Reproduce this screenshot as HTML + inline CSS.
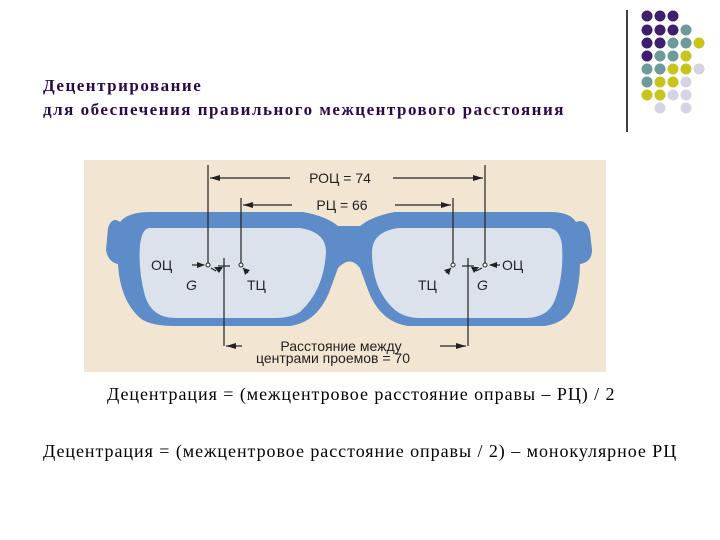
<!DOCTYPE html>
<html><head><meta charset="utf-8"><style>
body{margin:0;width:720px;height:540px;background:#fff;overflow:hidden;position:relative;font-family:"Liberation Serif",serif}
.t{position:absolute;left:43px;font-weight:bold;font-size:17px;letter-spacing:1.5px;color:#2a0a4a;white-space:nowrap}
.f{position:absolute;font-size:18px;letter-spacing:0.95px;color:#000;white-space:nowrap}
</style></head><body>
<div class="t" style="top:76px">Децентрирование</div>
<div class="t" style="top:100px">для обеспечения правильного межцентрового расстояния</div>
<svg width="720" height="540" style="position:absolute;left:0;top:0">
<line x1="627" y1="10" x2="627" y2="132" stroke="#000" stroke-width="1.5"/>
<g>
<circle cx="647" cy="16" r="5.5" fill="#3e1f6e"/><circle cx="660" cy="16" r="5.5" fill="#3e1f6e"/><circle cx="673" cy="16" r="5.5" fill="#3e1f6e"/>
<circle cx="647" cy="30" r="5.5" fill="#3e1f6e"/><circle cx="660" cy="30" r="5.5" fill="#3e1f6e"/><circle cx="673" cy="30" r="5.5" fill="#3e1f6e"/><circle cx="686" cy="30" r="5.5" fill="#6e9a9a"/>
<circle cx="647" cy="43" r="5.5" fill="#3e1f6e"/><circle cx="660" cy="43" r="5.5" fill="#3e1f6e"/><circle cx="673" cy="43" r="5.5" fill="#6e9a9a"/><circle cx="686" cy="43" r="5.5" fill="#6e9a9a"/><circle cx="699" cy="43" r="5.5" fill="#c8c41e"/>
<circle cx="647" cy="56" r="5.5" fill="#3e1f6e"/><circle cx="660" cy="56" r="5.5" fill="#6e9a9a"/><circle cx="673" cy="56" r="5.5" fill="#6e9a9a"/><circle cx="686" cy="56" r="5.5" fill="#c8c41e"/>
<circle cx="647" cy="69" r="5.5" fill="#6e9a9a"/><circle cx="660" cy="69" r="5.5" fill="#6e9a9a"/><circle cx="673" cy="69" r="5.5" fill="#c8c41e"/><circle cx="686" cy="69" r="5.5" fill="#c8c41e"/><circle cx="699" cy="69" r="5.5" fill="#d4d4e4"/>
<circle cx="647" cy="82" r="5.5" fill="#6e9a9a"/><circle cx="660" cy="82" r="5.5" fill="#c8c41e"/><circle cx="673" cy="82" r="5.5" fill="#c8c41e"/><circle cx="686" cy="82" r="5.5" fill="#d4d4e4"/>
<circle cx="647" cy="95" r="5.5" fill="#c8c41e"/><circle cx="660" cy="95" r="5.5" fill="#c8c41e"/><circle cx="673" cy="95" r="5.5" fill="#d4d4e4"/><circle cx="686" cy="95" r="5.5" fill="#d4d4e4"/>
<circle cx="660" cy="108" r="5.5" fill="#d4d4e4"/><circle cx="686" cy="108" r="5.5" fill="#d4d4e4"/>
</g>
<rect x="84" y="160" width="522" height="212" fill="#f2e6d2"/>
<path d="M120,222 Q112,216 108,228 L106,250 Q108,262 118,264 Q120,300 140,318 Q150,326 175,326 L290,326 Q318,322 330,290 L338,268 Q350,255 360,268 L368,290 Q380,322 408,326 L545,326 Q570,322 575,300 Q580,282 580,264 Q592,262 592,250 L590,232 Q586,218 576,222 Q570,212 550,212 L395,212 Q372,216 360,226 L338,226 Q326,216 303,212 L150,212 Q128,212 120,222 Z" fill="#5e8cc8"/>
<path d="M150,228 L300,228 Q326,232 326,252 Q324,290 300,312 Q290,318 275,318 L175,318 Q152,318 145,296 Q138,270 140,245 Q142,228 150,228 Z" fill="#dce2ec"/>
<path d="M398,228 L550,228 Q560,230 562,245 Q564,275 555,300 Q548,318 525,318 L420,318 Q405,318 395,310 Q372,290 372,252 Q372,232 398,228 Z" fill="#dce2ec"/>
<g stroke="#222" stroke-width="1.2" fill="none">
<line x1="208" y1="165" x2="208" y2="263"/><line x1="485" y1="165" x2="485" y2="263"/>
<line x1="241" y1="198" x2="241" y2="263"/><line x1="453" y1="198" x2="453" y2="263"/>
<line x1="224" y1="258" x2="224" y2="346"/><line x1="468" y1="258" x2="468" y2="346"/>
<line x1="218" y1="266" x2="230" y2="266"/><line x1="462" y1="266" x2="474" y2="266"/>
<line x1="210" y1="178" x2="290" y2="178"/><line x1="393" y1="178" x2="483" y2="178"/>
<line x1="243" y1="205" x2="292" y2="205"/><line x1="395" y1="205" x2="451" y2="205"/>
<line x1="226" y1="346" x2="242" y2="346"/><line x1="440" y1="346" x2="466" y2="346"/>
<line x1="192" y1="265" x2="204" y2="265"/><line x1="500" y1="265" x2="490" y2="265"/>
<line x1="243" y1="268" x2="248" y2="273"/><line x1="451" y1="268" x2="446" y2="273"/>
<line x1="211" y1="268" x2="216" y2="271"/><line x1="482" y1="268" x2="476" y2="271"/>
</g>
<g fill="#222">
<polygon points="210,178 220,175 220,181"/><polygon points="483,178 473,175 473,181"/>
<polygon points="243,205 253,202 253,208"/><polygon points="451,205 441,202 441,208"/>
<polygon points="226,346 236,343 236,349"/><polygon points="466,346 456,343 456,349"/>
<polygon points="205,265 197,262 197,268"/><polygon points="489,265 497,262 497,268"/>
<polygon points="223,267 214,267 219,273"/><polygon points="471,267 479,267 474,273"/>
<polygon points="243,268 250,270 245,275"/><polygon points="451,268 444,270 449,275"/>
</g>
<circle cx="208" cy="265" r="2" fill="#fff" stroke="#222"/><circle cx="241" cy="265" r="2" fill="#fff" stroke="#222"/>
<circle cx="453" cy="265" r="2" fill="#fff" stroke="#222"/><circle cx="485" cy="265" r="2" fill="#fff" stroke="#222"/>
<g font-family="Liberation Sans,sans-serif" font-size="14" fill="#222">
<text x="340" y="183" text-anchor="middle">РОЦ = 74</text>
<text x="342" y="210" text-anchor="middle">РЦ = 66</text>
<text x="151" y="270">ОЦ</text><text x="502" y="270">ОЦ</text>
<text x="247" y="290">ТЦ</text><text x="418" y="290">ТЦ</text>
<text x="186" y="290" font-style="italic">G</text><text x="477" y="290" font-style="italic">G</text>
<text x="341" y="351" text-anchor="middle">Расстояние между</text>
<text x="333" y="363" text-anchor="middle">центрами проемов = 70</text>
</g>
</svg>
<div class="f" style="left:107px;top:384px">Децентрация = (межцентровое расстояние оправы – РЦ) / 2</div>
<div class="f" style="left:43px;top:441px">Децентрация = (межцентровое расстояние оправы / 2) – монокулярное РЦ</div>
</body></html>
